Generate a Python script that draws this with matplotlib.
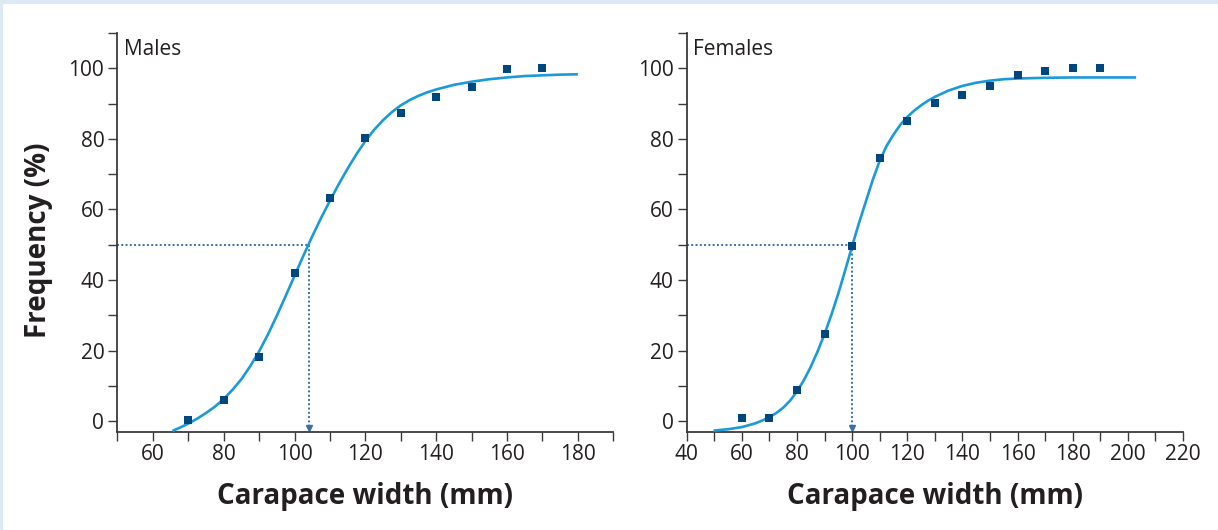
import matplotlib
matplotlib.use("Agg")
import matplotlib.pyplot as plt
from matplotlib.patches import Rectangle

# ---------------- data ----------------
male_width = [70, 80, 90, 100, 110, 120, 130, 140, 150, 160, 170]
male_freq = [0.2, 6.1, 18.3, 42.1, 63.1, 80.1, 87.2, 92.0, 94.8, 99.9, 100.0]

male_curve_x = [65.5, 67.5, 70, 72.5, 75, 77.5, 80, 82.5, 85, 87.5, 90, 92.5,
                95, 97.5, 100, 102.5, 105, 107.5, 110, 112.5, 115, 117.5, 120,
                122.5, 125, 127.5, 130, 132.5, 135, 137.5, 140, 145, 150, 155,
                160, 165, 170, 175, 180]
male_curve_y = [-2.8, -1.9, -0.7, 0.7, 2.3, 4.1, 6.3, 8.9, 11.9, 15.6, 19.8,
                24.6, 29.9, 35.5, 41.2, 46.9, 52.4, 57.6, 62.5, 67.2, 71.6,
                75.7, 79.4, 82.6, 85.3, 87.6, 89.5, 91.0, 92.2, 93.2, 94.0,
                95.3, 96.2, 96.9, 97.4, 97.8, 98.0, 98.2, 98.3]
male_w50 = 104

female_width = [60, 70, 80, 90, 100, 110, 120, 130, 140, 150, 160, 170, 180, 190]
female_freq = [0.75, 0.75, 8.7, 24.6, 49.5, 74.5, 85.2, 90.3, 92.3, 95.1, 98.2,
               99.1, 100.2, 100.2]

female_curve_x = [49.7, 55, 60, 65, 67.5, 70, 72.5, 75, 77.5, 80, 82.5, 85,
                  87.5, 90, 92.5, 95, 97.5, 100, 102.5, 105, 107.5, 110, 112.5,
                  115, 117.5, 120, 122.5, 125, 127.5, 130, 135, 140, 145, 150,
                  155, 160, 170, 180, 190, 203]
female_curve_y = [-2.7, -2.3, -1.7, -0.6, 0.2, 1.1, 2.3, 3.8, 5.8, 8.4, 11.6,
                  15.4, 19.8, 24.7, 30.2, 36.2, 42.8, 49.6, 56.2, 62.3, 68.4,
                  73.8, 78.0, 81.2, 84.0, 86.2, 88.0, 89.5, 90.8, 91.9, 93.7,
                  95.0, 95.9, 96.5, 96.9, 97.1, 97.3, 97.4, 97.4, 97.4]
female_w50 = 100

male_xticks = list(range(50, 191, 10))
male_xlabels = [str(v) if v % 20 == 0 else "" for v in male_xticks]
female_xticks = list(range(40, 221, 10))
female_xlabels = [str(v) if v % 20 == 0 else "" for v in female_xticks]
yticks = list(range(0, 111, 10))
ylabels = [str(v) if v % 20 == 0 and v <= 100 else "" for v in yticks]

panel_titles = ["Males", "Females"]
xlabel = "Carapace width (mm)"
ylabel = "Frequency (%)"

# ---------------- style ----------------
FONT = "Open Sans"
plt.rcParams["font.family"] = [FONT, "DejaVu Sans"]
TEXT = "#231f20"
CURVE = "#1a9ad8"
MARK = "#00467f"
DOT = "#3d6fa3"

W, H = 1218, 530
fig = plt.figure(figsize=(W / 100, H / 100), dpi=100)
fig.patch.set_facecolor("white")
fig.patches.append(Rectangle((0, 1 - 4 / H), 1, 4 / H, transform=fig.transFigure,
                             facecolor="#dde9f7", edgecolor="none", zorder=0))
fig.patches.append(Rectangle((0, 0), 3 / W, 1, transform=fig.transFigure,
                             facecolor="#dde9f7", edgecolor="none", zorder=0))

def px_axes(x0, x1, y_top, y_bot):
    return [x0 / W, 1 - y_bot / H, (x1 - x0) / W, (y_bot - y_top) / H]

axL = fig.add_axes(px_axes(117.5, 613.3, 33, 431.7))
axR = fig.add_axes(px_axes(686.7, 1183, 33, 431.7))

def setup(ax, xlim, xticks, xlabels, wx, wy, cx, cy, w50, title, tx):
    ax.set_xlim(*xlim)
    ax.set_ylim(-3, 110)
    for s in ["top", "right"]:
        ax.spines[s].set_visible(False)
    for s in ["left", "bottom"]:
        ax.spines[s].set_linewidth(1.3)
        ax.spines[s].set_color("#3a3a3a")
    ax.set_xticks(xticks)
    ax.set_xticklabels(xlabels)
    ax.set_yticks(yticks)
    ax.set_yticklabels(ylabels)
    ax.tick_params(axis="both", direction="out", length=6.5, width=1.0,
                   color="#3a3a3a", labelsize=15, labelcolor=TEXT, pad=3)
    ax.tick_params(axis="x", pad=2.5)
    for lab in ax.get_xticklabels() + ax.get_yticklabels():
        lab.set_fontfamily([FONT, "DejaVu Sans"])
    # 50% guide lines
    ax.plot([xlim[0], w50], [50, 50], color=DOT, lw=1.4,
            linestyle=(0, (1.0, 1.2)), zorder=2, clip_on=False)
    ax.plot([w50, w50], [50, -1.8], color=DOT, lw=1.4,
            linestyle=(0, (1.0, 1.2)), zorder=2, clip_on=False)
    ax.plot([w50], [-1.9], marker="v", color=DOT, markersize=4.2,
            linestyle="none", clip_on=False, zorder=2)
    ax.plot(cx, cy, color=CURVE, lw=1.9, zorder=3, clip_on=False,
            solid_capstyle="butt", solid_joinstyle="round")
    ax.plot(wx, wy, linestyle="none", marker="s", markersize=5.2,
            color=MARK, markeredgewidth=0, zorder=4, clip_on=False)
    ax.text(tx, 103.7, title, fontsize=15, color=TEXT, va="baseline",
            ha="left", family=[FONT, "DejaVu Sans"])
    ax.set_xlabel(xlabel, fontsize=20, fontweight="bold", color=TEXT,
                  labelpad=12, family=[FONT, "DejaVu Sans"])

setup(axL, (50, 190), male_xticks, male_xlabels, male_width, male_freq,
      male_curve_x, male_curve_y, male_w50, panel_titles[0], 51.8)
setup(axR, (40, 220), female_xticks, female_xlabels, female_width, female_freq,
      female_curve_x, female_curve_y, female_w50, panel_titles[1], 42.4)

fig.text(38.5 / W, 1 - 240 / H, ylabel, rotation=90, ha="center", va="center",
         fontsize=20, fontweight="bold", color=TEXT,
         family=[FONT, "DejaVu Sans"])

fig.savefig("out.png", dpi=100, facecolor="white")
